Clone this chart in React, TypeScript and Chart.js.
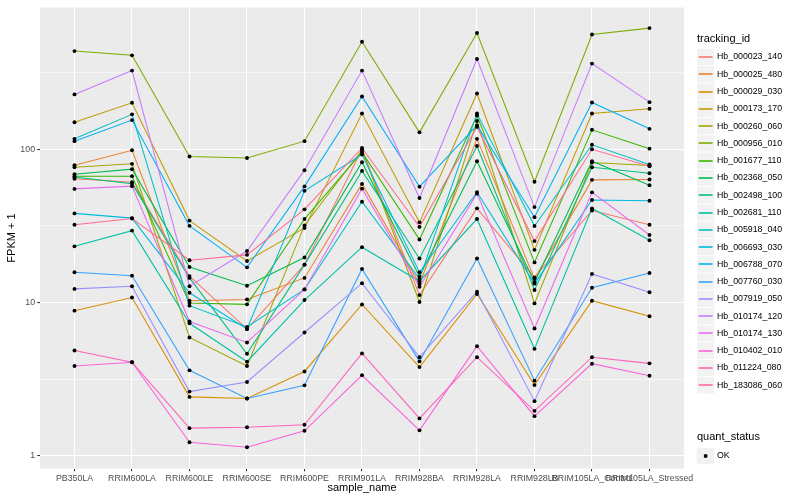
import { useEffect, useRef } from "react";
import Chart from "chart.js/auto";

const FONT = '"Liberation Sans", Arial, Helvetica, sans-serif';

const categories = [
  "PB350LA", "RRIM600LA", "RRIM600LE", "RRIM600SE", "RRIM600PE", "RRIM901LA",
  "RRIM928BA", "RRIM928LA", "RRIM928LB", "RRIM105LA_Control", "RRIM105LA_Stressed",
];

const trackingIds = [
  "Hb_000023_140", "Hb_000025_480", "Hb_000029_030", "Hb_000173_170", "Hb_000260_060",
  "Hb_000956_010", "Hb_001677_110", "Hb_002368_050", "Hb_002498_100", "Hb_002681_110",
  "Hb_005918_040", "Hb_006693_030", "Hb_006788_070", "Hb_007760_030", "Hb_007919_050",
  "Hb_010174_120", "Hb_010174_130", "Hb_010402_010", "Hb_011224_080", "Hb_183086_060",
];

const seriesColors = [
  "#F8766D", "#EA8331", "#D89000", "#C09B00", "#A3A500", "#7CAE00", "#39B600", "#00BB4E",
  "#00BF7D", "#00C1A3", "#00BFC4", "#00BAE0", "#00B0F6", "#35A2FF", "#9590FF", "#C77CFF",
  "#E76BF3", "#FA62DB", "#FF62BC", "#FF6C91",
];

// FPKM + 1 values, one array per tracking_id, in category order
const hb000023_140 = [64.2, 61, 14.9, 6.73, 17.7, 100, 11.2, 41.2, 14.6, 39.9, 32.2];
const hb000025_480 = [78.7, 98.5, 10.3, 10.5, 14.5, 59.5, 13.3, 117, 14.3, 63.2, 63.5];
const hb000029_030 = [8.87, 10.8, 2.43, 2.37, 3.56, 9.73, 3.8, 11.4, 2.9, 10.3, 8.15];
const hb000173_170 = [150, 201, 34.3, 18.7, 30.7, 171, 33.4, 231, 22.1, 171, 184];
const hb000260_060 = [76.4, 80.4, 5.93, 3.86, 31.9, 98.9, 10.1, 153, 9.89, 82, 78.5];
const hb000956_010 = [437, 410, 89.7, 87.8, 113, 503, 129, 573, 61.4, 561, 617];
const hb001677_110 = [66.8, 66.8, 9.95, 9.75, 35.1, 95.9, 25.8, 166, 18.3, 134, 101];
const hb002368_050 = [68.8, 74.2, 17.1, 12.9, 19.7, 82.4, 14.8, 83.6, 13.6, 83.6, 58.3];
const hb002498_100 = [66, 59.7, 14.5, 4.64, 17.7, 72.3, 19.4, 105, 12.1, 76.4, 69.8];
const hb002681_110 = [23.3, 29.5, 7.34, 4.12, 10.4, 23, 13.8, 35.1, 5.0, 41.2, 25.5];
const hb005918_040 = [117, 169, 9.56, 6.95, 12.2, 45.5, 14.3, 171, 31.6, 107, 79.6];
const hb006693_030 = [38.2, 35.6, 11.6, 6.73, 53.6, 92.4, 15.8, 52.6, 13.3, 46.7, 46.2];
const hb006788_070 = [113, 155, 31.7, 17, 57.3, 221, 57.1, 143, 36.1, 202, 136];
const hb007760_030 = [15.8, 15, 3.62, 2.37, 2.89, 16.6, 4.14, 19.4, 3.1, 12.5, 15.6];
const hb007919_050 = [12.3, 12.8, 2.63, 3.04, 6.39, 13.4, 4.41, 11.8, 2.28, 15.4, 11.7];
const hb010174_120 = [228, 326, 12.8, 21.7, 73.1, 326, 48.1, 388, 42, 362, 203];
const hb010174_130 = [55.2, 57.5, 7.53, 5.5, 12.2, 55.4, 12.7, 51.4, 6.78, 52.4, 27.6];
const hb010402_010 = [3.86, 4.09, 1.23, 1.14, 1.46, 3.36, 1.47, 5.2, 1.82, 4.0, 3.34];
const hb011224_080 = [4.88, 4.09, 1.52, 1.54, 1.6, 4.67, 1.76, 4.41, 1.97, 4.41, 4.02];
const hb183086_060 = [32.2, 35.4, 18.9, 20.5, 40.6, 102, 31.2, 140, 25.2, 100, 77.6];

const seriesValues = [
  hb000023_140, hb000025_480, hb000029_030, hb000173_170, hb000260_060,
  hb000956_010, hb001677_110, hb002368_050, hb002498_100, hb002681_110,
  hb005918_040, hb006693_030, hb006788_070, hb007760_030, hb007919_050,
  hb010174_120, hb010174_130, hb010402_010, hb011224_080, hb183086_060,
];

const yMajorTicks = [1, 10, 100];
const yMinorTicks = [3.1623, 31.623, 316.23];
const quantStatus = ["OK"];

export default function App() {
  const canvasRef = useRef<HTMLCanvasElement | null>(null);

  useEffect(() => {
    document.body.style.margin = "0";
    const canvas = canvasRef.current;
    if (!canvas) return;

    const decor = {
      id: "decor",
      beforeDraw(chart: any) {
        const { ctx, chartArea: a } = chart;
        ctx.save();
        ctx.fillStyle = "#EBEBEB";
        ctx.fillRect(a.left, a.top, a.right - a.left, a.bottom - a.top);
        ctx.restore();
      },
      afterDraw(chart: any) {
        const { ctx, chartArea: a } = chart;
        ctx.save();
        ctx.fillStyle = "#000000";
        ctx.textBaseline = "middle";
        // axis titles
        ctx.font = `11px ${FONT}`;
        ctx.textAlign = "center";
        ctx.fillText("sample_name", (a.left + a.right) / 2, 488);
        ctx.save();
        ctx.translate(12, (a.top + a.bottom) / 2);
        ctx.rotate(-Math.PI / 2);
        ctx.fillText("FPKM + 1", 0, 0);
        ctx.restore();

        // legend: tracking_id
        const lx = 697;
        const key = 17.28;
        ctx.textAlign = "left";
        ctx.font = `11px ${FONT}`;
        ctx.fillText("tracking_id", lx, 39);
        ctx.font = `8.8px ${FONT}`;
        trackingIds.forEach((id, i) => {
          const cy = 57 + i * key;
          ctx.fillStyle = "#F2F2F2";
          ctx.fillRect(lx, cy - key / 2 + 0.5, key, key - 1);
          const ly = Math.round(cy);
          ctx.strokeStyle = seriesColors[i];
          ctx.lineWidth = 1.6;
          ctx.beginPath();
          ctx.moveTo(lx + 1.7, ly);
          ctx.lineTo(lx + key - 1.7, ly);
          ctx.stroke();
          ctx.fillStyle = "#000000";
          ctx.fillText(id, 717, cy);
        });

        // legend: quant_status
        ctx.font = `11px ${FONT}`;
        ctx.fillText("quant_status", lx, 437);
        ctx.font = `8.8px ${FONT}`;
        quantStatus.forEach((s, i) => {
          const cy = 456 + i * key;
          ctx.fillStyle = "#F2F2F2";
          ctx.fillRect(lx, cy - key / 2 + 0.5, key, key - 1);
          ctx.fillStyle = "#000000";
          ctx.beginPath();
          ctx.arc(lx + key / 2, cy, 1.95, 0, Math.PI * 2);
          ctx.fill();
          ctx.fillText(s, 717, cy);
        });
        ctx.restore();
      },
    };

    const lineSets = seriesValues.map((vals, i) => ({
      type: "line" as const,
      label: trackingIds[i],
      data: vals.map((v, j) => ({ x: j, y: v })),
      borderColor: seriesColors[i],
      backgroundColor: seriesColors[i],
      borderWidth: 1.07,
      pointRadius: 0,
      tension: 0,
      fill: false,
      order: 30 - i,
    }));

    const pointSet = {
      type: "line" as const,
      label: "points",
      data: seriesValues.flatMap((vals) => vals.map((v, j) => ({ x: j, y: v }))),
      showLine: false,
      pointRadius: 1.95,
      pointBackgroundColor: "#000000",
      pointBorderWidth: 0,
      borderColor: "#000000",
      order: 0,
    };

    const isMinor = (v: number) => yMinorTicks.some((m) => Math.abs(m - v) < 1e-6);

    const chart = new Chart(canvas, {
      type: "line",
      data: { datasets: [...lineSets, pointSet] as any },
      plugins: [decor],
      options: {
        responsive: false,
        animation: false,
        events: [],
        layout: { padding: { top: 5.5, right: 116, left: 0, bottom: 0 } },
        plugins: { legend: { display: false }, tooltip: { enabled: false } },
        scales: {
          x: {
            type: "linear",
            min: -0.6,
            max: 10.6,
            bounds: "data",
            afterBuildTicks: (s: any) => {
              s.ticks = categories.map((_, i) => ({ value: i }));
            },
            afterFit: (s: any) => {
              s.height = 31.4;
            },
            ticks: {
              autoSkip: false,
              maxRotation: 0,
              minRotation: 0,
              padding: 2.2,
              color: "#4D4D4D",
              font: { size: 8.8, family: FONT },
              callback: (v: any) => categories[Number(v)] ?? "",
            },
            grid: {
              color: "#FFFFFF",
              lineWidth: 1.07,
              drawTicks: true,
              tickLength: 2.75,
              tickColor: "#333333",
              tickWidth: 1.07,
            },
            border: { display: false },
          },
          y: {
            type: "logarithmic",
            min: 0.828,
            max: 841,
            bounds: "data",
            afterBuildTicks: (s: any) => {
              s.ticks = [...yMajorTicks, ...yMinorTicks]
                .sort((a, b) => a - b)
                .map((v) => ({ value: v }));
            },
            afterFit: (s: any) => {
              s.width = 40;
            },
            ticks: {
              autoSkip: false,
              padding: 2.2,
              color: "#4D4D4D",
              font: { size: 8.8, family: FONT },
              callback: (v: any) => (yMajorTicks.includes(Number(v)) ? String(v) : ""),
            },
            grid: {
              color: "#FFFFFF",
              lineWidth: (ctx: any) => (ctx.tick && isMinor(ctx.tick.value) ? 0.53 : 1.07),
              drawTicks: true,
              tickLength: 2.75,
              tickColor: (ctx: any) =>
                ctx.tick && isMinor(ctx.tick.value) ? "rgba(0,0,0,0)" : "#333333",
              tickWidth: 1.07,
            },
            border: { display: false },
          },
        },
      } as any,
    });

    return () => chart.destroy();
  }, []);

  return (
    <div style={{ position: "absolute", left: 0, top: 0, width: 800, height: 500 }}>
      <canvas ref={canvasRef} width={800} height={500} style={{ display: "block" }} />
    </div>
  );
}
